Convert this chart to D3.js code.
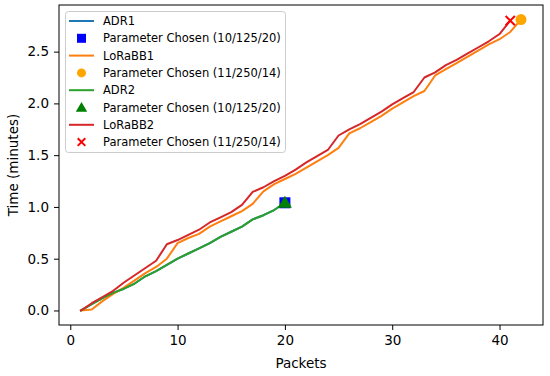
<!DOCTYPE html>
<html>
<head>
<meta charset="utf-8">
<script src="https://cdn.jsdelivr.net/npm/d3@7"></script>
<style>
  body { margin: 0; background: #fff; }
  svg text { font-family: "DejaVu Sans", sans-serif; fill: #000; }
</style>
</head>
<body>
<svg id="chart" width="550" height="376"></svg>
<script>
// data
var ADR = [0, 0.06, 0.12, 0.17, 0.21, 0.26, 0.33, 0.38, 0.44, 0.50,
           0.55, 0.60, 0.65, 0.71, 0.76, 0.81, 0.88, 0.92, 0.97, 1.04];
var LORABB1 = [0, 0.01, 0.09, 0.16, 0.22, 0.29, 0.36, 0.42, 0.50, 0.65,
               0.70, 0.74, 0.81, 0.86, 0.91, 0.96, 1.03, 1.15, 1.22, 1.27,
               1.32, 1.38, 1.44, 1.50, 1.57, 1.71, 1.76, 1.82, 1.88, 1.95,
               2.01, 2.07, 2.12, 2.27, 2.33, 2.39, 2.45, 2.51, 2.57, 2.62,
               2.69, 2.81];
var LORABB2 = [0, 0.07, 0.13, 0.19, 0.27, 0.34, 0.41, 0.48, 0.64, 0.68,
               0.73, 0.78, 0.85, 0.90, 0.95, 1.02, 1.145, 1.19, 1.25, 1.30,
               1.36, 1.43, 1.49, 1.55, 1.69, 1.75, 1.80, 1.86, 1.92, 1.99,
               2.05, 2.11, 2.25, 2.30, 2.37, 2.42, 2.48, 2.54, 2.60, 2.67,
               2.80];
var XTICKS = [0, 10, 20, 30, 40];
var YTICKS = [0, 0.5, 1.0, 1.5, 2.0, 2.5];

var SERIES = [
  {name: "ADR1", values: ADR, color: "#1f77b4", marker: "square", mcolor: "blue", label: "Parameter Chosen (10/125/20)"},
  {name: "LoRaBB1", values: LORABB1, color: "#ff7f0e", marker: "circle", mcolor: "orange", label: "Parameter Chosen (11/250/14)"},
  {name: "ADR2", values: ADR, color: "#2ca02c", marker: "triangle", mcolor: "green", label: "Parameter Chosen (10/125/20)"},
  {name: "LoRaBB2", values: LORABB2, color: "#d62728", marker: "cross", mcolor: "red", label: "Parameter Chosen (11/250/14)"}
];

var PL = 59, PR = 543, PT = 5, PB = 325;
var xmax = 42, ymax = 2.81;

var x = d3.scaleLinear().domain([1 - 0.05 * (xmax - 1), xmax + 0.05 * (xmax - 1)]).range([PL, PR]);
var y = d3.scaleLinear().domain([-0.05 * ymax, ymax * 1.05]).range([PB, PT]);

var SVG = d3.select("#chart");

var line = d3.line()
  .x(function(d, i){ return x(i + 1); })
  .y(function(d){ return y(d); });

function drawMarker(g, type, color, cx, cy, s) {
  if (type == "square") {
    g.append("rect").attr("x", cx - s/2).attr("y", cy - s/2).attr("width", s).attr("height", s).attr("fill", color);
  } else if (type == "circle") {
    g.append("circle").attr("cx", cx).attr("cy", cy).attr("r", s/2).attr("fill", color);
  } else if (type == "triangle") {
    g.append("path").attr("d", d3.symbol().type(d3.symbolTriangle).size(s * s * 0.7)())
      .attr("transform", "translate(" + cx + "," + (cy + 1) + ")").attr("fill", color);
  } else {
    var h = s * 0.42;
    g.append("path").attr("d", "M" + (cx-h) + "," + (cy-h) + "L" + (cx+h) + "," + (cy+h) + "M" + (cx-h) + "," + (cy+h) + "L" + (cx+h) + "," + (cy-h))
      .attr("stroke", color).attr("stroke-width", 2).attr("fill", "none");
  }
}

var plot = SVG.append("g");
SERIES.forEach(function(s){
  plot.append("path").datum(s.values)
    .attr("d", line)
    .attr("fill", "none")
    .attr("stroke", s.color)
    .attr("stroke-width", 2)
    .attr("stroke-linejoin", "round")
    .attr("stroke-linecap", "square");
  var n = s.values.length;
  drawMarker(plot, s.marker, s.mcolor, x(n), y(s.values[n - 1]), 11);
});

// axes
var xAxis = SVG.append("g").attr("transform", "translate(0," + PB + ")")
  .call(d3.axisBottom(x).tickValues(XTICKS).tickFormat(d3.format("d")).tickSizeOuter(0).tickSize(5).tickPadding(5));
var yAxis = SVG.append("g").attr("transform", "translate(" + PL + ",0)")
  .call(d3.axisLeft(y).tickValues(YTICKS).tickFormat(d3.format(".1f")).tickSizeOuter(0).tickSize(5).tickPadding(5));
[xAxis, yAxis].forEach(function(a){
  a.select(".domain").remove();
  a.selectAll("text").style("font-size", "13.5px").style("font-family", "DejaVu Sans");
  a.selectAll("line").attr("stroke", "#000");
});

SVG.append("rect").attr("x", PL).attr("y", PT).attr("width", PR - PL).attr("height", PB - PT)
  .attr("fill", "none").attr("stroke", "#000").attr("stroke-width", 1);

SVG.append("text").attr("x", (PL + PR) / 2).attr("y", 368).attr("text-anchor", "middle")
  .style("font-size", "13.5px").text("Packets");
SVG.append("text").attr("transform", "translate(18," + ((PT + PB) / 2) + ") rotate(-90)")
  .attr("text-anchor", "middle").style("font-size", "13.5px").text("Time (minutes)");

// legend
var LEG = SVG.append("g");
LEG.append("rect").attr("x", 65.5).attr("y", 11.5).attr("width", 220).attr("height", 141).attr("rx", 3)
  .attr("fill", "#fff").attr("fill-opacity", 0.8).attr("stroke", "#ccc").attr("stroke-width", 1);
var rowY = 21, step = 17.3;
SERIES.forEach(function(s, i){
  var y1 = rowY + step * (2 * i), y2 = rowY + step * (2 * i + 1);
  LEG.append("line").attr("x1", 69).attr("x2", 94).attr("y1", y1).attr("y2", y1)
    .attr("stroke", s.color).attr("stroke-width", 2);
  LEG.append("text").attr("x", 103).attr("y", y1).attr("dy", "0.35em").style("font-size", "11.5px").text(s.name);
  drawMarker(LEG, s.marker, s.mcolor, 81.5, y2, 9);
  LEG.append("text").attr("x", 103).attr("y", y2).attr("dy", "0.35em").style("font-size", "11.5px").text(s.label);
});
</script>
</body>
</html>
